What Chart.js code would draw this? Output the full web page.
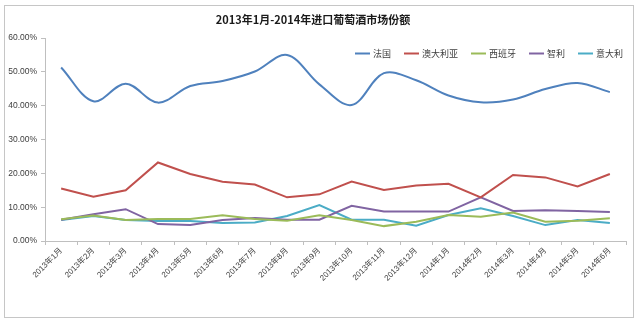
<!DOCTYPE html>
<html><head><meta charset="utf-8">
<script src="https://cdn.jsdelivr.net/npm/chart.js@4/dist/chart.umd.min.js"></script>
<style>html,body{margin:0;padding:0;background:#fff;}#wrap{width:640px;height:323px;}</style>
</head><body><div id="wrap"><canvas id="c" width="640" height="323"></canvas></div>
<script>
const titleText = '2013年1月-2014年进口葡萄酒市场份额';
const categories = ['2013年1月','2013年2月','2013年3月','2013年4月','2013年5月','2013年6月','2013年7月','2013年8月','2013年9月','2013年10月','2013年11月','2013年12月','2014年1月','2014年2月','2014年3月','2014年4月','2014年5月','2014年6月'];
const seriesNames = ['法国','澳大利亚','西班牙','智利','意大利'];
const france    = [51.3, 41.3, 46.5, 40.9, 45.8, 47.3, 50.1, 55.0, 46.3, 40.2, 49.6, 47.5, 43.0, 41.0, 41.8, 44.9, 46.7, 44.0];
const australia = [15.5, 13.1, 15.0, 23.2, 19.8, 17.5, 16.7, 12.9, 13.8, 17.6, 15.1, 16.4, 16.9, 12.9, 19.5, 18.8, 16.1, 19.8];
const spain     = [6.4, 7.5, 6.2, 6.5, 6.5, 7.6, 6.5, 6.0, 7.6, 6.2, 4.4, 5.7, 7.7, 7.2, 8.4, 5.7, 6.0, 6.7];
const chile     = [6.3, 7.9, 9.4, 5.0, 4.7, 6.2, 6.8, 6.3, 6.3, 10.4, 8.7, 8.7, 8.7, 12.9, 8.9, 9.1, 8.9, 8.6];
const italy     = [6.2, 7.4, 6.2, 5.9, 5.9, 5.3, 5.5, 7.4, 10.6, 6.3, 6.3, 4.5, 7.7, 9.7, 7.4, 4.7, 6.2, 5.3];
const yTicks = {min: 0, max: 60, step: 10};

const colors = ['#4F81BD','#C0504D','#9BBB59','#8064A2','#4BACC6'];
const allSeries = [france, australia, spain, chile, italy];

const borderPlugin = {
  id: 'outerBorder',
  beforeDraw(chart) {
    const ctx = chart.ctx;
    ctx.save();
    ctx.fillStyle = '#fff';
    ctx.fillRect(0, 0, chart.width, chart.height);
    ctx.strokeStyle = '#c6c6c6';
    ctx.lineWidth = 1;
    ctx.strokeRect(4.5, 5.5, 629, 312);
    ctx.restore();
  }
};

// Horizontal legend placed inside the plot area (top right), built from the datasets
const inlineLegend = {
  id: 'inlineLegend',
  afterDraw(chart) {
    const ctx = chart.ctx;
    const ds = chart.data.datasets;
    ctx.save();
    ctx.font = "9px 'Noto Sans CJK SC', sans-serif";
    ctx.textBaseline = 'middle';
    ctx.textAlign = 'left';
    const lineW = 15, gapText = 3, gapItem = 13;
    const widths = ds.map(d => lineW + gapText + ctx.measureText(d.label).width);
    const total = widths.reduce((a, b) => a + b, 0) + gapItem * (ds.length - 1);
    const right = chart.chartArea.right - 3;
    const y = chart.chartArea.top + 15.5;
    let x = right - total;
    ds.forEach((d, i) => {
      ctx.strokeStyle = d.borderColor;
      ctx.lineWidth = 2;
      ctx.beginPath();
      ctx.moveTo(x, y);
      ctx.lineTo(x + lineW, y);
      ctx.stroke();
      ctx.fillStyle = '#404040';
      ctx.fillText(d.label, x + lineW + gapText, y + 0.5);
      x += widths[i] + gapItem;
    });
    ctx.restore();
  }
};

const fontFam = "'Liberation Sans', 'Noto Sans CJK SC', sans-serif";

new Chart(document.getElementById('c'), {
  type: 'line',
  data: {
    labels: categories,
    datasets: allSeries.map((d, i) => ({
      label: seriesNames[i],
      data: d,
      borderColor: colors[i],
      backgroundColor: colors[i],
      borderWidth: 2,
      pointRadius: 0,
      pointHoverRadius: 0,
      tension: i === 0 ? 0.35 : 0,
      fill: false
    }))
  },
  options: {
    responsive: false,
    animation: false,
    devicePixelRatio: 1,
    layout: {padding: {left: 0, right: 14, top: 0, bottom: 0}},
    plugins: {
      title: {
        display: true,
        text: titleText,
        color: '#1a1a1a',
        font: {family: "'Noto Sans CJK SC', sans-serif", size: 11, weight: 'bold', lineHeight: 1.2},
        padding: {top: 13, bottom: 11.8}
      },
      legend: {display: false},
      tooltip: {enabled: false}
    },
    scales: {
      x: {
        offset: true,
        grid: {offset: true, drawOnChartArea: false, drawTicks: true, tickLength: 4, color: '#bfbfbf'},
        border: {display: true, color: '#bfbfbf'},
        ticks: {
          autoSkip: false, maxRotation: 45, minRotation: 45, padding: 1,
          color: '#404040',
          font: {family: fontFam, size: 8}
        },
        afterFit(scale) { scale.height = 82; }
      },
      y: {
        min: yTicks.min, max: yTicks.max,
        grid: {drawOnChartArea: false, drawTicks: true, tickLength: 4, color: '#bfbfbf'},
        border: {display: true, color: '#bfbfbf'},
        ticks: {
          stepSize: yTicks.step, padding: 4,
          color: '#404040',
          font: {family: fontFam, size: 8.5},
          callback: v => v.toFixed(2) + '%'
        },
        afterFit(scale) { scale.width = 45; }
      }
    }
  },
  plugins: [borderPlugin, inlineLegend]
});
</script>
</body></html>
